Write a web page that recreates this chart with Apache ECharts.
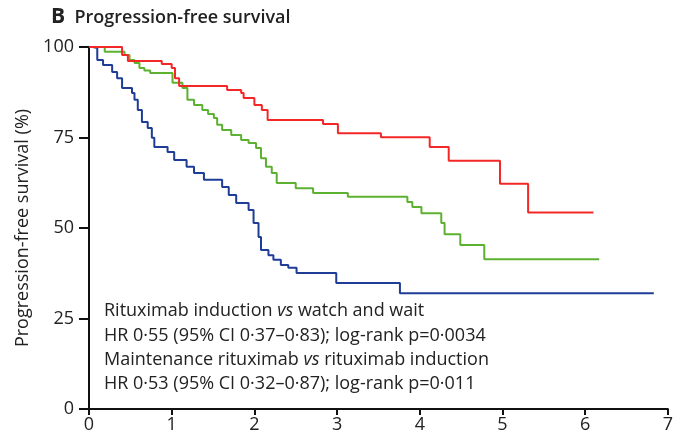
<!DOCTYPE html>
<html>
<head>
<meta charset="utf-8">
<script src="https://cdn.jsdelivr.net/npm/echarts@6/dist/echarts.min.js"></script>
<style>
	html, body { margin: 0; padding: 0; background: #fff; }
	#pfs { width: 676px; height: 446px; }
</style>
</head>
<body>
<div id="pfs"></div>
<script>
// years since randomisation (step times) and progression-free survival (%)
var redTime = [0, 0.40, 0.47, 0.88, 1.00, 1.04, 1.09, 1.67, 1.84, 1.87, 2.00, 2.09, 2.16, 2.83, 3.01, 3.53, 4.12, 4.35, 4.97, 5.31, 6.10];
var redSurv = [100, 97.8, 96.1, 95.3, 94.2, 91.4, 89.2, 88.1, 87.3, 85.9, 84.0, 82.6, 79.8, 78.7, 76.2, 75.1, 72.4, 68.6, 62.2, 54.3, 54.3];

var greenTime = [0, 0.19, 0.43, 0.49, 0.55, 0.61, 0.67, 0.74, 1.01, 1.13, 1.19, 1.27, 1.37, 1.44, 1.51, 1.55, 1.61, 1.72, 1.84, 1.93, 2.02, 2.08, 2.14, 2.21, 2.27, 2.50, 2.71, 3.13, 3.85, 3.91, 4.02, 4.26, 4.30, 4.49, 4.78, 6.17];
var greenSurv = [100, 98.7, 97.8, 96.4, 95.6, 94.2, 93.5, 92.8, 90.1, 88.7, 85.4, 84.0, 82.6, 81.5, 80.4, 78.5, 77.1, 75.7, 74.3, 73.5, 72.1, 69.3, 66.9, 65.2, 62.4, 61.0, 59.7, 58.6, 57.2, 55.8, 54.1, 51.4, 48.3, 45.3, 41.4, 41.4];

var blueTime = [0, 0.05, 0.10, 0.17, 0.28, 0.34, 0.40, 0.52, 0.55, 0.59, 0.64, 0.71, 0.76, 0.79, 0.95, 1.03, 1.18, 1.27, 1.39, 1.61, 1.69, 1.78, 1.93, 1.99, 2.05, 2.08, 2.17, 2.23, 2.32, 2.41, 2.51, 2.99, 3.76, 6.83];
var blueSurv = [100, 99.7, 96.4, 95.0, 93.1, 91.4, 88.7, 87.3, 85.4, 82.6, 79.3, 77.6, 74.9, 72.4, 71.0, 68.8, 66.9, 65.2, 63.3, 61.3, 59.1, 56.9, 55.0, 51.4, 47.5, 43.9, 42.5, 41.2, 39.8, 39.0, 37.6, 34.8, 32.0, 32.0];

var xTicks = [0, 1, 2, 3, 4, 5, 6, 7];
var yTicks = [0, 25, 50, 75, 100];

var font = 'Open Sans';

var toPairs = function(t, s) {
	var arr = [];
	for (var i = 0; i < t.length; i++) {
		arr.push([t[i], s[i]]);
	}
	return arr;
};

var kmSeries = function(name, color, t, s) {
	return {
		name: name,
		type: 'line',
		step: 'end',
		symbol: 'none',
		lineStyle: { color: color, width: 2 },
		data: toPairs(t, s)
	};
};

var myChart = echarts.init(document.getElementById('pfs'));
myChart.setOption({
	animation: false,
	textStyle: { fontFamily: font },
	title: {
		text: '{b|B}  Progression-free survival',
		left: 46,
		top: 2,
		textStyle: {
			fontFamily: font,
			fontSize: 18,
			fontWeight: 600,
			color: '#222',
			rich: {
				b: { fontFamily: font, fontSize: 21, fontWeight: 'bold', color: '#222' }
			}
		}
	},
	grid: { left: 89, right: 4, top: 47, bottom: 37 },
	xAxis: {
		type: 'value',
		min: xTicks[0],
		max: xTicks[xTicks.length - 1],
		interval: 1,
		splitLine: { show: false },
		axisLine: { lineStyle: { color: '#111', width: 2 } },
		axisTick: { length: 6, lineStyle: { color: '#111', width: 2 } },
		axisLabel: { color: '#222', fontSize: 18, margin: 7, fontFamily: font }
	},
	yAxis: {
		type: 'value',
		min: yTicks[0],
		max: yTicks[yTicks.length - 1],
		interval: 25,
		name: 'Progression-free survival (%)',
		nameLocation: 'middle',
		nameGap: 57,
		nameTextStyle: { color: '#222', fontSize: 18, fontFamily: font },
		splitLine: { show: false },
		axisLine: { show: true, lineStyle: { color: '#111', width: 2 } },
		axisTick: { show: true, length: 10, lineStyle: { color: '#111', width: 2 } },
		axisLabel: { color: '#222', fontSize: 18, margin: 15, fontFamily: font }
	},
	graphic: [{
		type: 'text',
		left: 104,
		top: 299,
		style: {
			text: 'Rituximab induction {i|vs} watch and wait\nHR 0·55 (95% CI 0·37–0·83); log-rank p=0·0034\nMaintenance rituximab {i|vs} rituximab induction\nHR 0·53 (95% CI 0·32–0·87); log-rank p=0·011',
			fontFamily: font,
			fontSize: 18,
			lineHeight: 24.3,
			fill: '#222',
			rich: {
				i: { fontFamily: font, fontSize: 18, fontStyle: 'italic', lineHeight: 24.3, fill: '#222' }
			}
		}
	}],
	series: [
		kmSeries('Watch and wait', '#1f3d96', blueTime, blueSurv),
		kmSeries('Rituximab induction', '#5cb130', greenTime, greenSurv),
		kmSeries('Maintenance rituximab', '#f42727', redTime, redSurv)
	]
});
</script>
</body>
</html>
